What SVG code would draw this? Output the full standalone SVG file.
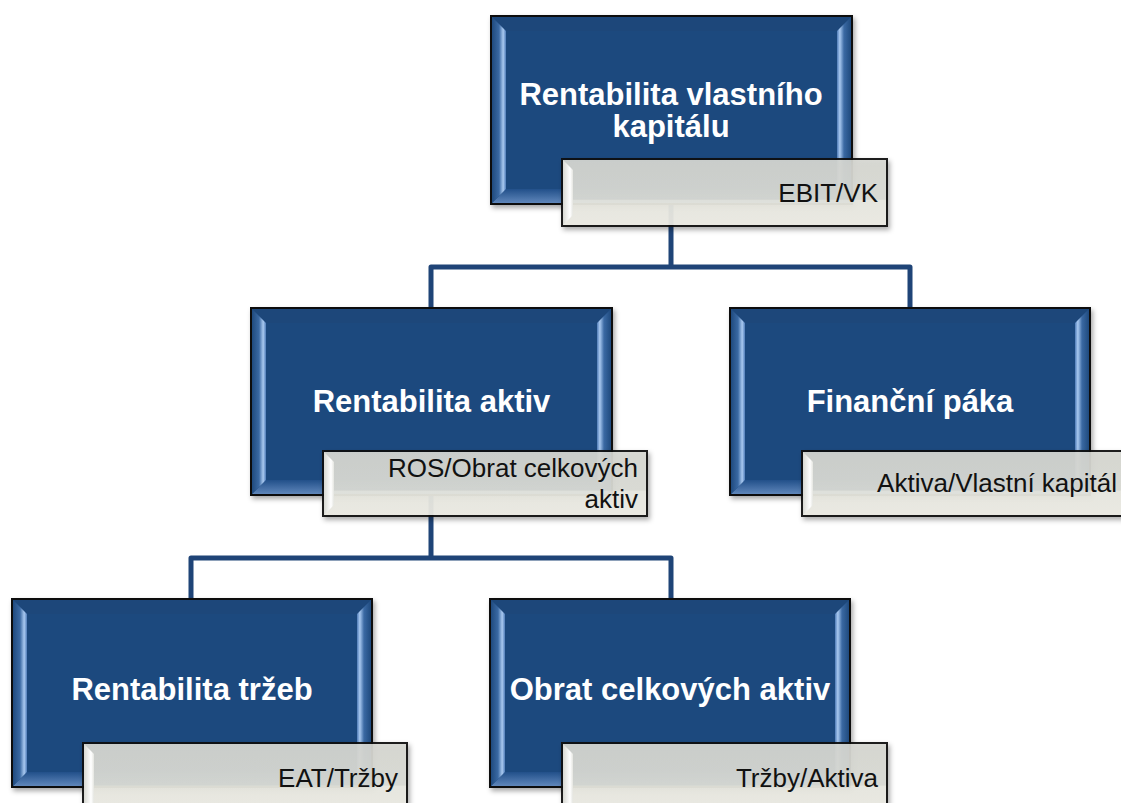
<svg xmlns="http://www.w3.org/2000/svg" width="1121" height="803" viewBox="0 0 1121 803">
<style>
.blue{fill:#1f4a7e;stroke:#111;stroke-width:2}
.sub{fill:url(#gsub);stroke:#111;stroke-width:2;opacity:0.93}
.title{font-family:"Liberation Sans",Arial,sans-serif;font-weight:bold;font-size:31px;fill:#fff;text-anchor:middle}
.label{font-family:"Liberation Sans",Arial,sans-serif;font-size:26px;fill:#111;text-anchor:end}
.conn{fill:none;stroke:#1f4477;stroke-width:5;stroke-linejoin:round}
.bl{fill:url(#gbl)}
.br{fill:url(#gbr)}
.bt{fill:#1d477a}
.bb{fill:url(#gbb)}
.sl{fill:url(#gsl)}
</style>
<defs>
<filter id="sh" x="-5%" y="-5%" width="115%" height="120%">
<feDropShadow dx="2" dy="3" stdDeviation="2.5" flood-color="#000" flood-opacity="0.35"/>
</filter>
<linearGradient id="gsub" x1="0" y1="0" x2="0" y2="1">
<stop offset="0" stop-color="#d6d7d1"/>
<stop offset="0.6" stop-color="#dadbd4"/>
<stop offset="0.62" stop-color="#e8e8e0"/>
<stop offset="1" stop-color="#ecebe3"/>
</linearGradient>
<linearGradient id="gbl" x1="0" y1="0" x2="1" y2="0">
<stop offset="0" stop-color="#1f4a7e"/>
<stop offset="0.5" stop-color="#3a69a3"/>
<stop offset="0.8" stop-color="#a9c9f0"/>
<stop offset="1" stop-color="#4f7cb8"/>
</linearGradient>
<linearGradient id="gbr" x1="1" y1="0" x2="0" y2="0">
<stop offset="0" stop-color="#1f4a7e"/>
<stop offset="0.5" stop-color="#3a69a3"/>
<stop offset="0.8" stop-color="#a9c9f0"/>
<stop offset="1" stop-color="#4f7cb8"/>
</linearGradient>
<linearGradient id="gbb" x1="0" y1="0" x2="0" y2="1">
<stop offset="0" stop-color="#22508a"/>
<stop offset="1" stop-color="#5f86ba"/>
</linearGradient>
<linearGradient id="gsl" x1="0" y1="0" x2="1" y2="0">
<stop offset="0" stop-color="#d8d9d3"/>
<stop offset="0.7" stop-color="#ffffff"/>
<stop offset="1" stop-color="#e4e5e0"/>
</linearGradient>
</defs>

<g id="connectors">
<path class="conn" d="M671 204 V267 M431 308 V267 H910 V308"/>
<path class="conn" d="M431 495 V558 M191 599 V558 H671 V599"/>
</g>

<g id="node-roe">
<g filter="url(#sh)"><rect class="blue" x="491" y="16" width="361" height="188"/></g>
<polygon class="bt" points="492,17 851,17 837,31 506,31"/>
<polygon class="bb" points="492,203 851,203 837,189 506,189"/>
<polygon class="bl" points="492,17 506,31 506,189 492,203"/>
<polygon class="br" points="851,17 837,31 837,189 851,203"/>
<text class="title" x="671" y="105">Rentabilita vlastního</text>
<text class="title" x="671" y="137">kapitálu</text>
<g filter="url(#sh)"><rect class="sub" x="562" y="159" width="325" height="67"/></g>
<polygon class="sl" points="563,160 573,170 573,215 563,225"/>
<text class="label" x="878" y="202">EBIT/VK</text>
</g>

<g id="node-roa">
<g filter="url(#sh)"><rect class="blue" x="251" y="308" width="361" height="187"/></g>
<polygon class="bt" points="252,309 611,309 597,323 266,323"/>
<polygon class="bb" points="252,494 611,494 597,480 266,480"/>
<polygon class="bl" points="252,309 266,323 266,480 252,494"/>
<polygon class="br" points="611,309 597,323 597,480 611,494"/>
<text class="title" x="431.5" y="412">Rentabilita aktiv</text>
<g filter="url(#sh)"><rect class="sub" x="323" y="451" width="324" height="65"/></g>
<polygon class="sl" points="324,452 334,462 334,505 324,515"/>
<text class="label" x="638" y="477">ROS/Obrat celkových</text>
<text class="label" x="638" y="508">aktiv</text>
</g>

<g id="node-leverage">
<g filter="url(#sh)"><rect class="blue" x="730" y="308" width="360" height="187"/></g>
<polygon class="bt" points="731,309 1089,309 1075,323 745,323"/>
<polygon class="bb" points="731,494 1089,494 1075,480 745,480"/>
<polygon class="bl" points="731,309 745,323 745,480 731,494"/>
<polygon class="br" points="1089,309 1075,323 1075,480 1089,494"/>
<text class="title" x="910" y="412">Finanční páka</text>
<g filter="url(#sh)"><rect class="sub" x="802" y="451" width="332" height="65"/></g>
<polygon class="sl" points="803,452 813,462 813,505 803,515"/>
<text class="label" x="1117" y="492">Aktiva/Vlastní kapitál</text>
</g>

<g id="node-ros">
<g filter="url(#sh)"><rect class="blue" x="12" y="599" width="360" height="188"/></g>
<polygon class="bt" points="13,600 371,600 357,614 27,614"/>
<polygon class="bb" points="13,786 371,786 357,772 27,772"/>
<polygon class="bl" points="13,600 27,614 27,772 13,786"/>
<polygon class="br" points="371,600 357,614 357,772 371,786"/>
<text class="title" x="192" y="700">Rentabilita tržeb</text>
<g filter="url(#sh)"><rect class="sub" x="83" y="743" width="324" height="70"/></g>
<polygon class="sl" points="84,744 94,754 94,803 84,803"/>
<text class="label" x="398" y="787">EAT/Tržby</text>
</g>

<g id="node-turnover">
<g filter="url(#sh)"><rect class="blue" x="490" y="599" width="360" height="188"/></g>
<polygon class="bt" points="491,600 849,600 835,614 505,614"/>
<polygon class="bb" points="491,786 849,786 835,772 505,772"/>
<polygon class="bl" points="491,600 505,614 505,772 491,786"/>
<polygon class="br" points="849,600 835,614 835,772 849,786"/>
<text class="title" x="670" y="700">Obrat celkových aktiv</text>
<g filter="url(#sh)"><rect class="sub" x="562" y="743" width="325" height="70"/></g>
<polygon class="sl" points="563,744 573,754 573,803 563,803"/>
<text class="label" x="878" y="787">Tržby/Aktiva</text>
</g>
</svg>
